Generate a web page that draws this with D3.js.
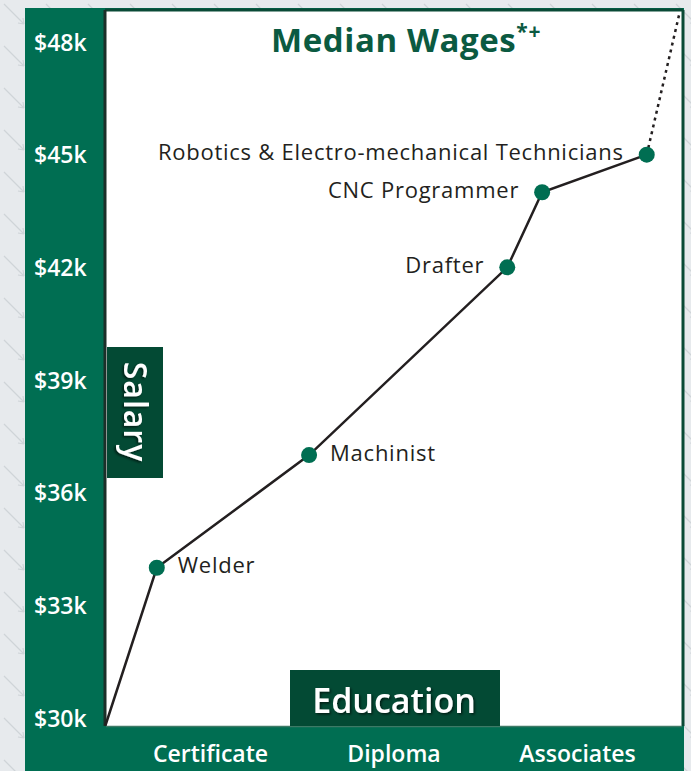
<!DOCTYPE html>
<html>
<head>
<meta charset="utf-8">
<script src="https://cdn.jsdelivr.net/npm/d3@7"></script>
<style>
  html, body { margin: 0; padding: 0; background: #e7eaed; }
  svg { display: block; }
</style>
</head>
<body>
<script>
// education levels on the x axis (position 1, 2, 3)
const eduLabels = ["Certificate", "Diploma", "Associates"];
const eduPos = [1, 2, 3];

// salary ticks in $k
const salaryTicks = [30, 33, 36, 39, 42, 45, 48];

// occupations: x = education position, y = median wage in $k
const jobs = ["", "Welder", "Machinist", "Drafter", "CNC Programmer", "Robotics & Electro-mechanical Technicians"];
const jobEdu = [0.43, 0.71, 1.54, 2.62, 2.81, 3.38];
const jobWage = [29.8, 34, 37, 42, 44, 45];
const labelSide = ["", "right", "right", "left", "left", "left"];

// dotted continuation past the last point
const trendEdu = [3.38, 3.56];
const trendWage = [45, 48.8];

const W = 691, H = 771;
const green = "#006e52", darkGreen = "#034a34";
const FONT = "'Open Sans', 'Noto Sans', sans-serif";

const svg = d3.select("body").append("svg")
    .attr("width", W)
    .attr("height", H);

// light patterned backdrop
const defs = svg.append("defs");
const pat = defs.append("pattern")
    .attr("id", "bg")
    .attr("width", 42).attr("height", 42)
    .attr("patternUnits", "userSpaceOnUse");
pat.append("rect").attr("width", 42).attr("height", 42).attr("fill", "#e7eaed");
pat.append("path")
    .attr("d", "M4,4 L24,24 M24,24 l-6,-1 M24,24 l-1,-6")
    .attr("stroke", "#cfd4d8").attr("stroke-width", 1.2).attr("fill", "none");
svg.append("rect").attr("width", W).attr("height", H).attr("fill", "url(#bg)");

// green panel
svg.append("rect")
    .attr("x", 25).attr("y", 8)
    .attr("width", 659).attr("height", H - 8)
    .attr("fill", green);

const plot = {left: 106, right: 682, top: 11, bottom: 726};

svg.append("rect")
    .attr("x", plot.left).attr("y", plot.top)
    .attr("width", plot.right - plot.left).attr("height", plot.bottom - plot.top)
    .attr("fill", "#fff");

// borders
svg.append("line")
    .attr("x1", plot.left - 1).attr("x2", plot.right + 1)
    .attr("y1", plot.top - 1).attr("y2", plot.top - 1)
    .attr("stroke", "#0a4a36").attr("stroke-width", 3);
svg.append("line")
    .attr("x1", plot.right + 1).attr("x2", plot.right + 1)
    .attr("y1", plot.top - 1).attr("y2", plot.bottom)
    .attr("stroke", "#0a4a36").attr("stroke-width", 3);
svg.append("line")
    .attr("x1", plot.left - 1).attr("x2", plot.left - 1)
    .attr("y1", plot.top - 1).attr("y2", plot.bottom)
    .attr("stroke", "#1c2f29").attr("stroke-width", 3);
svg.append("line")
    .attr("x1", plot.left).attr("x2", plot.right)
    .attr("y1", plot.bottom + 0.5).attr("y2", plot.bottom + 0.5)
    .attr("stroke", "#3d7a66").attr("stroke-width", 1.5);

const x = d3.scaleLinear()
    .domain([(plot.left - 26.5) / 183.5, (plot.right - 26.5) / 183.5])
    .range([plot.left, plot.right]);

const y = d3.scaleLinear()
    .domain([30, 48])
    .range([718, 42]);

// y axis labels
const yAxis = svg.append("g")
    .attr("transform", `translate(34,0)`)
    .call(d3.axisLeft(y).tickValues(salaryTicks).tickSize(0).tickFormat(d => `$${d}k`));
yAxis.select(".domain").remove();
yAxis.selectAll("text")
    .attr("x", 0)
    .attr("text-anchor", "start")
    .attr("dy", "0.36em")
    .attr("fill", "#fff")
    .style("font", `600 23px ${FONT}`);

// x axis labels
const xAxis = svg.append("g")
    .attr("transform", `translate(0,745)`)
    .call(d3.axisBottom(x).tickValues(eduPos).tickSize(0).tickFormat((d, i) => eduLabels[i]));
xAxis.select(".domain").remove();
xAxis.selectAll("text")
    .attr("y", 0)
    .attr("dy", "0.72em")
    .attr("fill", "#fff")
    .style("font", `600 23px ${FONT}`);

// title
const title = svg.append("text")
    .attr("x", 271).attr("y", 52)
    .attr("fill", "#0b5a41")
    .style("font", `bold 33px ${FONT}`)
    .style("letter-spacing", "0.6px");
title.append("tspan").text("Median Wages");
title.append("tspan").attr("dy", -13).style("font-size", "21px").text("*+");

// shadow filter for box titles
const f = defs.append("filter").attr("id", "sh")
    .attr("x", "-20%").attr("y", "-20%").attr("width", "140%").attr("height", "140%");
f.append("feDropShadow").attr("dx", 1.5).attr("dy", 1.5).attr("stdDeviation", 1)
    .attr("flood-color", "#000").attr("flood-opacity", 0.6);

// Salary box
svg.append("rect")
    .attr("x", 107).attr("y", 347)
    .attr("width", 56).attr("height", 131)
    .attr("fill", darkGreen);
svg.append("text")
    .attr("transform", "translate(135,412) rotate(90)")
    .attr("text-anchor", "middle")
    .attr("dy", "0.35em")
    .attr("fill", "#fff")
    .attr("filter", "url(#sh)")
    .style("font", `600 32px ${FONT}`)
    .style("letter-spacing", "1px")
    .text("Salary");

// Education box
svg.append("rect")
    .attr("x", 290).attr("y", 670)
    .attr("width", 210).attr("height", 56)
    .attr("fill", darkGreen);
svg.append("text")
    .attr("x", 394).attr("y", 713)
    .attr("text-anchor", "middle")
    .attr("fill", "#fff")
    .attr("filter", "url(#sh)")
    .style("font", `600 34px ${FONT}`)
    .text("Education");

// line through the occupations
const pts = jobEdu.map((e, i) => ({e: e, w: jobWage[i], name: jobs[i], side: labelSide[i]}));
const line = d3.line().x(d => x(d.e)).y(d => y(d.w));

svg.append("path")
    .datum(trendEdu.map((e, i) => ({e: e, w: trendWage[i]})))
    .attr("d", line)
    .attr("fill", "none")
    .attr("stroke", "#231f20")
    .attr("stroke-width", 2.5)
    .attr("stroke-dasharray", "3,4");

svg.append("path")
    .datum(pts)
    .attr("d", line)
    .attr("fill", "none")
    .attr("stroke", "#231f20")
    .attr("stroke-width", 2.5);

const jobPts = pts.slice(1);
svg.append("g").selectAll("circle")
    .data(jobPts)
    .join("circle")
    .attr("cx", d => x(d.e))
    .attr("cy", d => y(d.w))
    .attr("r", 8)
    .attr("fill", green);

svg.append("g").selectAll("text")
    .data(jobPts)
    .join("text")
    .attr("x", d => d.side === "left" ? x(d.e) - 23 : x(d.e) + 21)
    .attr("y", d => y(d.w) - 2)
    .attr("dy", "0.35em")
    .attr("text-anchor", d => d.side === "left" ? "end" : "start")
    .attr("fill", "#231f20")
    .style("font", `22px ${FONT}`)
    .style("letter-spacing", "0.75px")
    .text(d => d.name);
</script>
</body>
</html>
